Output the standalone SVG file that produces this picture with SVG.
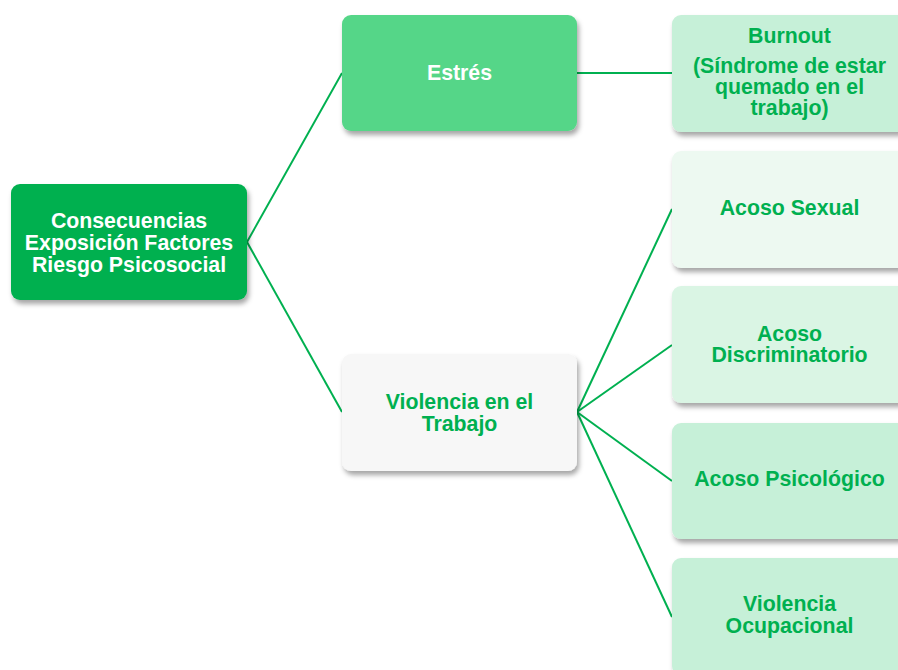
<svg xmlns="http://www.w3.org/2000/svg" width="898" height="670" viewBox="0 0 898 670">
<defs>
<filter id="sh" x="-10%" y="-10%" width="130%" height="140%">
<feDropShadow dx="2" dy="4" stdDeviation="2.5" flood-color="#000" flood-opacity="0.35"/>
</filter>
</defs>
<style>
.box{filter:url(#sh)}
.t{font-family:"Liberation Sans",Arial,sans-serif;font-weight:bold;font-size:21.3px;text-anchor:middle}
.w{fill:#FFFFFF}
.g{fill:#00B050}
.c{stroke:#00B050;stroke-width:2;fill:none}
</style>
<rect width="898" height="670" fill="#FFFFFF"/>
<g id="connectors">
<line class="c" x1="247" y1="242" x2="342" y2="73"/>
<line class="c" x1="247" y1="242" x2="342" y2="412"/>
<line class="c" x1="577" y1="73" x2="672" y2="73"/>
<line class="c" x1="577" y1="412" x2="672" y2="209"/>
<line class="c" x1="577" y1="412" x2="672" y2="345"/>
<line class="c" x1="577" y1="412" x2="672" y2="481"/>
<line class="c" x1="577" y1="412" x2="672" y2="617"/>
</g>
<g id="root">
<rect class="box" x="11" y="184" width="236" height="116" rx="9" fill="#00B050"/>
<text class="t w" x="129" y="228">Consecuencias</text>
<text class="t w" x="129" y="250">Exposición Factores</text>
<text class="t w" x="129" y="272">Riesgo Psicosocial</text>
</g>
<g id="estres">
<rect class="box" x="342" y="15" width="235" height="116" rx="9" fill="#55D688"/>
<text class="t w" x="459.5" y="80">Estrés</text>
</g>
<g id="violencia-trabajo">
<rect class="box" x="342" y="354" width="235" height="117" rx="9" fill="#F7F7F7"/>
<text class="t g" x="459.5" y="409">Violencia en el</text>
<text class="t g" x="459.5" y="431">Trabajo</text>
</g>
<g id="burnout">
<rect class="box" x="672" y="15" width="235" height="117" rx="9" fill="#C6F0D8"/>
<text class="t g" x="789.5" y="43">Burnout</text>
<text class="t g" x="789.5" y="73">(Síndrome de estar</text>
<text class="t g" x="789.5" y="94">quemado en el</text>
<text class="t g" x="789.5" y="115">trabajo)</text>
</g>
<g id="acoso-sexual">
<rect class="box" x="672" y="151" width="235" height="117" rx="9" fill="#EDF9F1"/>
<text class="t g" x="789.5" y="215">Acoso Sexual</text>
</g>
<g id="acoso-discriminatorio">
<rect class="box" x="672" y="286" width="235" height="117" rx="9" fill="#DAF5E4"/>
<text class="t g" x="789.5" y="341">Acoso</text>
<text class="t g" x="789.5" y="362">Discriminatorio</text>
</g>
<g id="acoso-psicologico">
<rect class="box" x="672" y="423" width="235" height="116" rx="9" fill="#C6F0D8"/>
<text class="t g" x="789.5" y="486">Acoso Psicológico</text>
</g>
<g id="violencia-ocupacional">
<rect class="box" x="672" y="558" width="235" height="117" rx="9" fill="#C6F0D8"/>
<text class="t g" x="789.5" y="611">Violencia</text>
<text class="t g" x="789.5" y="633">Ocupacional</text>
</g>
</svg>
